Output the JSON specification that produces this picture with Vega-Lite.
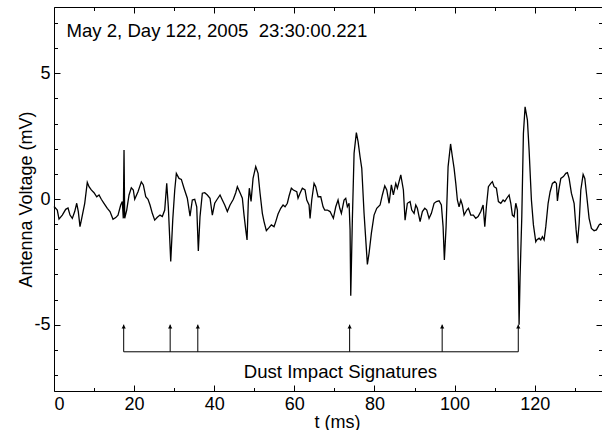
{
  "$schema": "https://vega.github.io/schema/vega-lite/v6.json",
  "width": 548,
  "height": 384,
  "autosize": {"type": "none"},
  "padding": {"left": 54, "top": 7, "right": 0, "bottom": 39},
  "background": "white",
  "config": {
    "view": {"stroke": null},
    "font": "Liberation Sans",
    "axis": {"grid": false, "domainColor": "black", "tickColor": "black", "labelColor": "black", "titleColor": "black", "labelFont": "Liberation Sans", "titleFont": "Liberation Sans", "labelFontSize": 18, "titleFontSize": 18, "titleFontWeight": "normal", "domainWidth": 1, "tickWidth": 1}
  },
  "datasets": {
    "trace": [
      {"t":0,"v":-0.3},{"t":0.82,"v":-0.44},{"t":1.25,"v":-0.8},{"t":2.07,"v":-0.64},{"t":2.92,"v":-0.41},{"t":3.5,"v":-0.36},{"t":4.0,"v":-0.64},{"t":4.57,"v":-0.77},{"t":5.17,"v":-0.5},{"t":5.67,"v":-0.17},{"t":6.07,"v":-0.5},{"t":6.49,"v":-1.1},{"t":6.92,"v":-0.77},{"t":7.67,"v":-0.17},{"t":8.31,"v":0.66},{"t":8.74,"v":0.49},{"t":9.31,"v":0.36},{"t":9.99,"v":0.25},{"t":10.66,"v":0.09},{"t":11.24,"v":0.16},{"t":11.81,"v":-0.01},{"t":12.48,"v":-0.17},{"t":13.31,"v":-0.37},{"t":13.98,"v":-0.5},{"t":14.73,"v":-0.81},{"t":15.41,"v":-0.74},{"t":15.98,"v":-0.64},{"t":16.65,"v":-0.24},{"t":17.05,"v":-0.1},{"t":17.3,"v":-0.77},{"t":17.48,"v":1.95},{"t":17.65,"v":-0.77},{"t":18.15,"v":-0.44},{"t":18.73,"v":0.16},{"t":19.3,"v":0.45},{"t":19.8,"v":0.36},{"t":20.15,"v":-0.01},
      {"t":20.97,"v":0.29},{"t":21.8,"v":0.68},{"t":22.3,"v":0.56},{"t":22.9,"v":0.09},{"t":23.47,"v":-0.01},{"t":23.97,"v":-0.24},{"t":24.54,"v":-0.57},{"t":25.14,"v":-0.84},{"t":25.79,"v":-0.73},{"t":26.47,"v":-0.64},{"t":27.04,"v":-0.7},{"t":27.64,"v":-0.44},{"t":28.14,"v":0.62},{"t":28.54,"v":-0.31},{"t":29.14,"v":-2.49},{"t":29.64,"v":-0.84},{"t":30.14,"v":0.36},{"t":30.54,"v":1.02},{"t":31.21,"v":0.82},{"t":31.79,"v":0.78},{"t":32.46,"v":0.43},{"t":33.28,"v":0.03},{"t":33.96,"v":-0.68},{"t":34.53,"v":-0.04},{"t":35.13,"v":-0.01},{"t":35.63,"v":-0.31},{"t":36.03,"v":-2.07},{"t":36.45,"v":-0.7},{"t":37.03,"v":0.23},{"t":37.63,"v":0.25},{"t":38.28,"v":0.16},{"t":38.95,"v":0.03},{"t":39.53,"v":-0.64},{"t":40.12,"v":-0.17},
      {"t":40.62,"v":-0.04},{"t":41.45,"v":0.16},{"t":42.02,"v":-0.04},{"t":42.62,"v":-0.24},{"t":43.27,"v":-0.5},{"t":43.95,"v":-0.24},{"t":44.77,"v":-0.01},{"t":45.37,"v":0.25},{"t":45.77,"v":0.49},{"t":46.44,"v":0.25},{"t":47.02,"v":0.03},{"t":47.44,"v":-0.64},{"t":47.87,"v":-1.23},{"t":48.19,"v":-1.63},{"t":48.51,"v":-0.1},{"t":48.76,"v":0.43},{"t":49.19,"v":-0.1},{"t":49.69,"v":0.82},{"t":50.36,"v":1.29},{"t":50.94,"v":1.02},{"t":51.44,"v":0.23},{"t":52.01,"v":-0.57},{"t":52.43,"v":-0.9},{"t":53.01,"v":-1.26},{"t":53.68,"v":-1.14},{"t":54.26,"v":-1.03},{"t":54.93,"v":-1.1},{"t":55.36,"v":-0.9},{"t":55.93,"v":-0.6},{"t":56.6,"v":-0.37},{"t":57.18,"v":-0.24},{"t":57.68,"v":-0.31},{"t":58.25,"v":-0.17},{"t":58.68,"v":0.12},{"t":59.25,"v":0.43},{"t":59.75,"v":0.36},
      {"t":60.6,"v":0.29},{"t":60.92,"v":0.03},{"t":61.42,"v":0.23},{"t":62.0,"v":0.43},{"t":62.67,"v":0.36},{"t":63.1,"v":-0.04},{"t":63.67,"v":-0.24},{"t":63.92,"v":-0.77},{"t":64.34,"v":-0.04},{"t":64.92,"v":0.62},{"t":65.34,"v":0.49},{"t":65.92,"v":0.09},{"t":66.59,"v":0.09},{"t":67.17,"v":-0.31},{"t":67.59,"v":-0.44},{"t":68.24,"v":-0.44},{"t":68.91,"v":-0.5},{"t":69.74,"v":-0.77},{"t":70.34,"v":-0.31},{"t":70.91,"v":-0.04},{"t":71.34,"v":-0.37},{"t":71.74,"v":-0.57},{"t":72.41,"v":-0.04},{"t":72.83,"v":0.03},{"t":73.23,"v":-0.31},{"t":73.66,"v":-0.17},{"t":73.91,"v":-1.23},{"t":74.08,"v":-3.85},{"t":74.48,"v":-0.84},{"t":74.91,"v":1.82},{"t":75.48,"v":2.64},{"t":75.91,"v":2.28},{"t":76.4,"v":1.68},{"t":76.83,"v":1.22},{"t":77.4,"v":-0.57},{"t":78.23,"v":-2.6},{"t":78.65,"v":-2.16},{"t":79.23,"v":-1.36},{"t":79.9,"v":-0.64},
      {"t":80.57,"v":-0.37},{"t":81.4,"v":-0.24},{"t":81.97,"v":0.16},{"t":82.57,"v":0.52},{"t":83.07,"v":0.36},{"t":83.65,"v":-0.17},{"t":84.22,"v":0.56},{"t":84.72,"v":0.16},{"t":85.32,"v":0.62},{"t":85.72,"v":0.43},{"t":86.57,"v":0.96},{"t":87.22,"v":0.36},{"t":87.64,"v":-0.84},{"t":88.21,"v":-0.17},{"t":88.89,"v":-0.1},{"t":89.31,"v":-0.44},{"t":89.89,"v":-0.57},{"t":90.31,"v":-0.24},{"t":90.71,"v":-0.37},{"t":91.39,"v":-0.9},{"t":91.96,"v":-0.5},{"t":92.56,"v":-0.37},{"t":93.06,"v":-0.44},{"t":93.63,"v":-0.77},{"t":94.21,"v":-0.57},{"t":94.88,"v":-0.17},{"t":95.46,"v":-0.1},{"t":96.13,"v":-0.07},{"t":96.7,"v":-0.24},{"t":97.13,"v":-1.1},{"t":97.45,"v":-2.43},{"t":97.88,"v":-1.1},{"t":98.38,"v":1.29},{"t":99.0,"v":2.19},{"t":99.45,"v":1.68},{"t":99.88,"v":1.22},{"t":100.3,"v":0.62},
      {"t":100.7,"v":-0.04},{"t":101.12,"v":-0.31},{"t":101.55,"v":-0.04},{"t":101.95,"v":-0.24},{"t":102.37,"v":-0.64},{"t":103.05,"v":-0.44},{"t":103.45,"v":-0.37},{"t":104.04,"v":-0.64},{"t":104.69,"v":-0.64},{"t":105.29,"v":-0.77},{"t":105.87,"v":-0.7},{"t":106.54,"v":-0.5},{"t":107.12,"v":-0.24},{"t":107.54,"v":-1.1},{"t":107.94,"v":-0.31},{"t":108.44,"v":0.49},{"t":109.04,"v":0.62},{"t":109.44,"v":0.69},{"t":109.86,"v":0.49},{"t":110.44,"v":0.43},{"t":110.94,"v":-0.1},{"t":111.54,"v":-0.17},{"t":112.11,"v":-0.04},{"t":112.53,"v":-0.1},{"t":113.03,"v":0.03},{"t":113.61,"v":0.16},{"t":114.03,"v":-0.17},{"t":114.43,"v":-0.64},{"t":114.86,"v":-0.7},{"t":115.28,"v":-0.17},{"t":115.68,"v":-0.44},{"t":115.93,"v":-2.96},{"t":116.1,"v":-5.0},{"t":116.35,"v":-3.09},{"t":116.78,"v":-0.7},{"t":117.18,"v":2.61},{"t":117.6,"v":3.67},{"t":118.18,"v":3.14},{"t":118.6,"v":1.95},{"t":119.18,"v":-0.04},{"t":119.68,"v":-1.03},{"t":120.27,"v":-1.7},
      {"t":120.52,"v":-1.63},{"t":121.1,"v":-1.56},{"t":121.52,"v":-1.63},{"t":121.92,"v":-1.5},{"t":122.35,"v":-1.63},{"t":122.77,"v":-1.1},{"t":123.35,"v":-0.17},{"t":123.85,"v":0.29},{"t":124.42,"v":0.62},{"t":125.02,"v":0.69},{"t":125.42,"v":0.62},{"t":125.67,"v":-0.08},{"t":126.02,"v":0.36},{"t":126.52,"v":0.82},{"t":127.17,"v":0.89},{"t":127.77,"v":1.02},{"t":128.17,"v":1.05},{"t":128.59,"v":0.82},{"t":129.16,"v":0.23},{"t":129.84,"v":-0.17},{"t":130.34,"v":-1.23},{"t":130.67,"v":-1.76},{"t":131.09,"v":-0.97},{"t":131.51,"v":0.36},{"t":132.09,"v":0.98},{"t":132.51,"v":0.82},{"t":133.01,"v":0.09},{"t":133.58,"v":-0.77},{"t":134.16,"v":-1.17},{"t":134.83,"v":-1.26},{"t":135.41,"v":-1.23},{"t":136.08,"v":-1.03},{"t":136.5,"v":-0.97}
    ],
    "impacts": [
      {"t":17.4,"base":-6.08,"tip":-5.0},{"t":29.0,"base":-6.08,"tip":-5.0},{"t":35.9,"base":-6.08,"tip":-5.0},{"t":73.8,"base":-6.08,"tip":-5.0},{"t":96.9,"base":-6.08,"tip":-5.0},{"t":115.9,"base":-6.08,"tip":-5.0}
    ],
    "span": [{"start":17.4,"end":115.9,"level":-6.08}],
    "header": [{"t":3.1,"v":6.45,"label":"May 2, Day 122, 2005\u00a0 23:30:00.221"}],
    "caption": [{"t":71.5,"v":-7.12,"label":"Dust Impact Signatures"}]
  },
  "resolve": {"axis": {"x": "independent", "y": "independent"}},
  "layer": [
    {
      "data": {"name": "trace"},
      "mark": {"type": "line", "color": "black", "strokeWidth": 1.3, "interpolate": "linear"},
      "encoding": {
        "x": {"field": "t", "type": "quantitative", "scale": {"domain": [0, 136.8], "nice": false, "zero": false},
              "axis": {"orient": "bottom", "values": [0,20,40,60,80,100,120], "ticks": false, "labelPadding": 4, "title": "t (ms)", "titleX": 283, "titleY": 36, "titleBaseline": "alphabetic", "titleAnchor": null, "domain": true}},
        "y": {"field": "v", "type": "quantitative", "scale": {"domain": [-7.64, 7.64], "nice": false, "zero": false},
              "axis": {"orient": "left", "values": [-5,0,5], "ticks": false, "labelPadding": 4, "labelExpr": "'' + datum.value", "title": "Antenna Voltage (mV)", "titleX": -22.5, "titleY": 192, "titleAngle": -90, "titleBaseline": "alphabetic", "titleAlign": "center", "domain": true}}
      }
    },
    {
      "data": {"name": "impacts"},
      "mark": {"type": "rule", "color": "black", "strokeWidth": 1},
      "encoding": {
        "x": {"field": "t", "type": "quantitative", "axis": {"orient": "bottom", "values": [0,20,40,60,80,100,120], "labels": false, "tickSize": -6, "domain": false, "title": null}},
        "y": {"field": "base", "type": "quantitative", "axis": {"orient": "left", "values": [-5,0,5], "labels": false, "tickSize": -6, "domain": false, "title": null}},
        "y2": {"field": "tip"}
      }
    },
    {
      "data": {"name": "span"},
      "mark": {"type": "rule", "color": "black", "strokeWidth": 1},
      "encoding": {
        "x": {"field": "start", "type": "quantitative", "axis": {"orient": "bottom", "values": [10,30,50,70,90,110,130], "labels": false, "tickSize": -3.5, "domain": false, "title": null}},
        "x2": {"field": "end"},
        "y": {"field": "level", "type": "quantitative", "axis": {"orient": "left", "values": [-7,-6,-4,-3,-2,-1,1,2,3,4,6,7], "labels": false, "tickSize": -3.5, "domain": false, "title": null}}
      }
    },
    {
      "data": {"name": "impacts"},
      "mark": {"type": "point", "shape": "triangle-up", "filled": true, "color": "black", "size": 18, "opacity": 1, "yOffset": 2},
      "encoding": {
        "x": {"field": "t", "type": "quantitative", "axis": {"orient": "top", "values": [0,20,40,60,80,100,120], "labels": false, "tickSize": -6, "domain": true, "title": null}},
        "y": {"field": "tip", "type": "quantitative", "axis": {"orient": "right", "values": [-5,0,5], "labels": false, "tickSize": -6, "domain": true, "title": null}}
      }
    },
    {
      "data": {"name": "header"},
      "mark": {"type": "text", "align": "left", "baseline": "alphabetic", "font": "Liberation Sans", "fontSize": 18.6, "color": "black"},
      "encoding": {
        "x": {"field": "t", "type": "quantitative", "axis": {"orient": "top", "values": [10,30,50,70,90,110,130], "labels": false, "tickSize": -3.5, "domain": false, "title": null}},
        "y": {"field": "v", "type": "quantitative", "axis": {"orient": "right", "values": [-7,-6,-4,-3,-2,-1,1,2,3,4,6,7], "labels": false, "tickSize": -3.5, "domain": false, "title": null}},
        "text": {"field": "label"}
      }
    },
    {
      "data": {"name": "caption"},
      "mark": {"type": "text", "align": "center", "baseline": "alphabetic", "font": "Liberation Sans", "fontSize": 18.6, "color": "black"},
      "encoding": {
        "x": {"field": "t", "type": "quantitative", "axis": null},
        "y": {"field": "v", "type": "quantitative", "axis": null},
        "text": {"field": "label"}
      }
    }
  ]
}
